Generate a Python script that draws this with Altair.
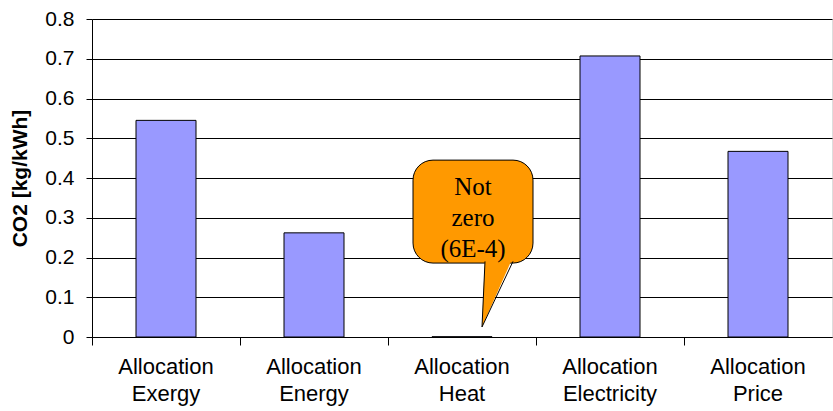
import altair as alt
import pandas as pd

categories = ["Allocation Exergy", "Allocation Energy", "Allocation Heat",
              "Allocation Electricity", "Allocation Price"]
values = [0.545, 0.262, 0.0006, 0.707, 0.467]
y_ticks = [0, 0.1, 0.2, 0.3, 0.4, 0.5, 0.6, 0.7, 0.8]

callout_cat = "Allocation Heat"
callout_text = "Not\nzero\n(6E-4)"
box_top, box_bottom = 0.445, 0.186
text_y = 0.357
pointer_y = 0.1057

df = pd.DataFrame({"cat": categories, "val": values})
ann = pd.DataFrame({"cat": [callout_cat], "top": [box_top], "bottom": [box_bottom],
                    "ty": [text_y], "py": [pointer_y], "label": [callout_text]})

xscale = alt.Scale(domain=categories, paddingInner=0, paddingOuter=0)
yscale = alt.Scale(domain=[0, 0.8])

x_axis = alt.Axis(labelExpr="split(datum.label, ' ')", labelAngle=0,
                  labelFont="Liberation Sans", labelFontSize=22,
                  labelColor="black", labelLineHeight=27, labelPadding=11,
                  labelBaseline="top",
                  bandPosition=0, tickColor="black", tickSize=8,
                  domainColor="black", grid=False, title=None)
y_axis = alt.Axis(values=y_ticks, format=".1~f", labelFont="Liberation Sans",
                  labelFontSize=21, labelColor="black", labelOverlap=False,
                  tickColor="black", tickSize=6, labelPadding=12,
                  domainColor="black", gridColor="black", gridWidth=1,
                  titleFont="Liberation Sans", titleFontSize=21,
                  titleFontWeight="bold", titleColor="black", titlePadding=14,
                  title="CO2 [kg/kWh]")

def xe():
    return alt.X("cat:N", scale=xscale, sort=categories, axis=x_axis)

def ye(field):
    return alt.Y(field, scale=yscale, axis=y_axis)

bars = alt.Chart(df).mark_bar(width=60, color="#9999FF", stroke="black",
                              strokeWidth=1).encode(x=xe(), y=ye("val:Q"))

box = alt.Chart(ann).mark_bar(width=120, xOffset=11, cornerRadius=20,
                              color="#FF9900", stroke="black", strokeWidth=1).encode(
    x=xe(), y=ye("top:Q"), y2="bottom:Q")

tri_fill = alt.Chart(ann).mark_point(
    shape="M-0.125,-0.95 L0.575,-0.95 L-0.2,0.8 Z", size=6400, filled=True,
    fill="#FF9900", fillOpacity=1, strokeWidth=0, xOffset=28, opacity=1).encode(
    x=xe(), y=ye("py:Q"))

tri_stroke = alt.Chart(ann).mark_point(
    shape="M-0.125,-0.84 L-0.2,0.8 L0.575,-0.84", size=6400, filled=False,
    stroke="black", strokeWidth=1, xOffset=28, opacity=1).encode(
    x=xe(), y=ye("py:Q"))

txt = alt.Chart(ann).mark_text(lineBreak="\n", font="Liberation Serif", fontSize=25,
                               lineHeight=31, color="black", xOffset=11,
                               baseline="alphabetic", align="center").encode(
    x=xe(), y=ye("ty:Q"), text="label:N")

chart = alt.layer(bars, box, tri_fill, tri_stroke, txt).properties(
    width=740, height=318,
    autosize=alt.AutoSizeParams(type="none"),
    padding={"left": 92, "top": 19, "right": 1, "bottom": 74},
).configure_view(stroke=None).configure(background="white")

chart.save("out.html", embed_options={"renderer": "svg", "actions": False})
